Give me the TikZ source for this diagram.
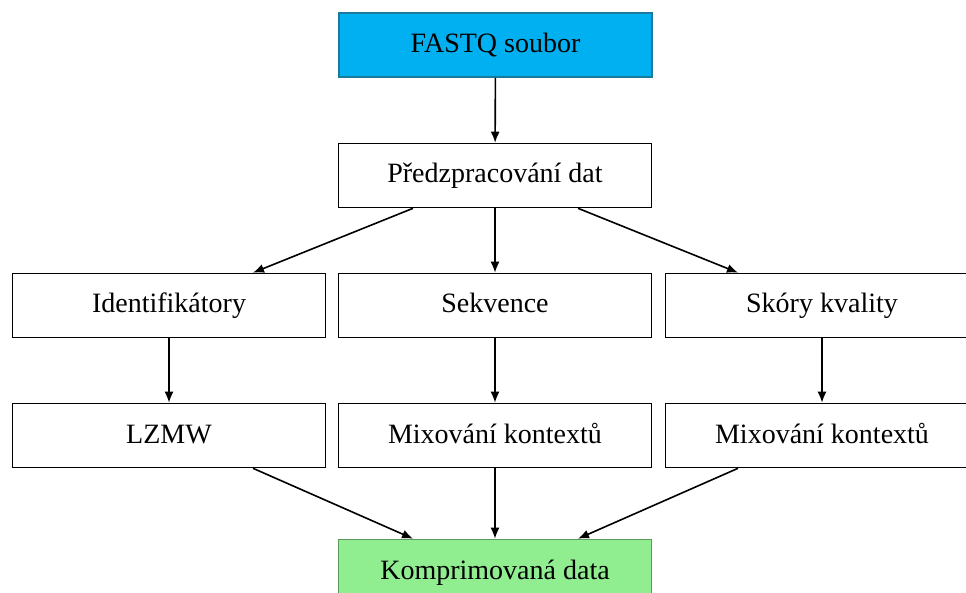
\documentclass[tikz,border=0pt]{standalone}
\usepackage{fontspec}
\setmainfont{Liberation Serif}
\usetikzlibrary{arrows.meta}

\definecolor{fastqfill}{HTML}{00B0F0}
\definecolor{fastqline}{HTML}{1A7A9A}
\definecolor{outfill}{HTML}{90EE90}
\definecolor{outline}{HTML}{5C9A5C}

\tikzset{
  stage/.style={draw, line width=1.6pt, minimum width=313pt, minimum height=64pt,
    inner sep=0pt, text height=21pt, text depth=6pt, font=\fontsize{28}{31}\selectfont},
  flow/.style={line width=1.6pt, -{Latex[length=11pt,width=9pt]}}
}

\begin{document}
\begin{tikzpicture}[x=1pt,y=-1pt]
    \useasboundingbox (0,0) rectangle (966,593);
    \clip (0,0) rectangle (966,593);

    \node[stage, fill=fastqfill, draw=fastqline] (fastq) at (495.5,45) {FASTQ soubor};
    \node[stage] (prep) at (495,175.5) {Předzpracování dat};

    \node[stage] (ident) at (169,305.5) {Identifikátory};
    \node[stage] (seq) at (495,305.5) {Sekvence};
    \node[stage] (qual) at (822,305.5) {Skóry kvality};

    \node[stage] (lzmw) at (169,435.5) {LZMW};
    \node[stage] (mixseq) at (495,435.5) {Mixování kontextů};
    \node[stage] (mixqual) at (822,435.5) {Mixování kontextů};

    \node[stage, fill=outfill, draw=outline] (out) at (495,571.5) {Komprimovaná data};

    \draw[flow] (fastq) -- (prep);
    \draw[flow] ([xshift=-82pt]prep.south) -- ([xshift=84pt]ident.north);
    \draw[flow] (prep) -- (seq);
    \draw[flow] ([xshift=83pt]prep.south) -- ([xshift=-84pt]qual.north);

    \draw[flow] (ident) -- (lzmw);
    \draw[flow] (seq) -- (mixseq);
    \draw[flow] (qual) -- (mixqual);

    \draw[flow] ([xshift=84pt]lzmw.south) -- ([xshift=-82pt]out.north);
    \draw[flow] (mixseq) -- (out);
    \draw[flow] ([xshift=-84pt]mixqual.south) -- ([xshift=83pt]out.north);
\end{tikzpicture}
\end{document}
